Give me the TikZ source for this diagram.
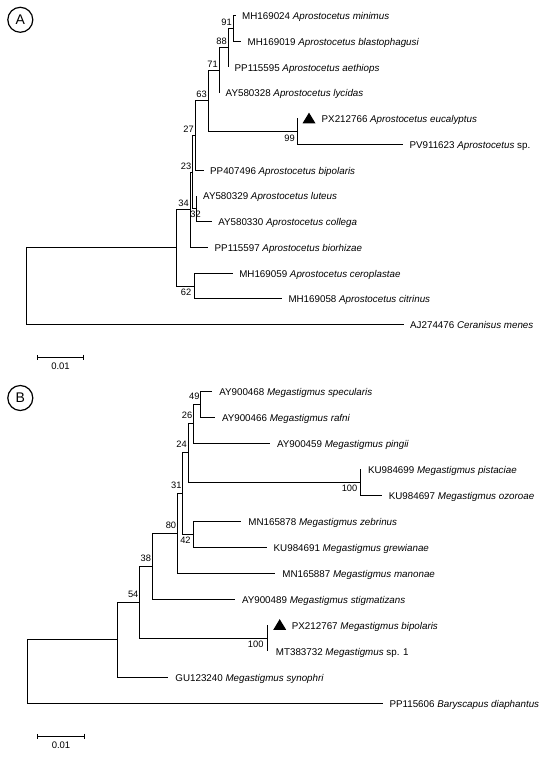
\documentclass[tikz,border=0pt]{standalone}
\usepackage{fontspec}
\setmainfont{Liberation Sans}
\usetikzlibrary{arrows.meta, positioning, calc}

\begin{document}
\begin{tikzpicture}[
  x=1pt, y=-1pt,
  branch/.style={line width=0.8pt, black},
  taxon/.style={font=\fontsize{9.8}{11}\selectfont, inner sep=0pt,
    text height=0.72em, text depth=0.22em, yshift=-1.7pt},
  boot/.style={font=\fontsize{9.3}{11}\selectfont, inner sep=0pt,
    anchor=base east, xshift=-1pt, yshift=#1},
  boot/.default=2.8pt,
  bootlow/.style={font=\fontsize{9.3}{11}\selectfont, inner sep=0pt,
    anchor=north east, xshift=-2.5pt, yshift=-3pt},
  panel/.style={draw, circle, line width=1.2pt, minimum size=25pt,
    inner sep=0pt, font=\fontsize{14}{14}\selectfont},
  scalebar/.style={line width=0.8pt, {Bar[width=5pt]}-{Bar[width=5pt]}},
]

\useasboundingbox (0,0) rectangle (550,757);

% ================= Tree A =================
\node[panel] (pA) at (20.3,19.8) {A};

% internal nodes
\foreach \n/\x/\y in {aroot/26.5/286.1, a00/176/247.75, a34/190/209.6,
    a23/192.5/172, a27/195/135.4, a63/208/100.8, a71/219/70.2,
    a88/228/47.7, a91/233/28.4, a99/297.5/131.4, a32/196.5/208.6,
    a62/194/285.9}
  \coordinate (\n) at (\x,\y);

% leaf tips
\foreach \n/\x/\y in {minimus/235.5/15.5, blastoph/241/41.25,
    aethiops/228/67, lycidas/219/92.75, eucalypt/297.5/118.5,
    apsp/402.8/144.25, apbipol/203.5/170, luteus/196.5/195.75,
    collega/211.6/221.5, biorhiz/208/247.25, ceropl/232.6/273,
    citrinus/281.8/298.75, menes/403.5/324.5}
  \coordinate (\n) at (\x,\y);

% branches
\foreach \p/\c in {aroot/a00, aroot/menes, a00/a34, a00/a62, a34/a23,
    a34/biorhiz, a23/a27, a23/a32, a27/a63, a27/apbipol, a63/a71, a63/a99,
    a71/a88, a71/lycidas, a88/a91, a88/aethiops, a91/minimus, a91/blastoph,
    a99/eucalypt, a99/apsp, a32/luteus, a32/collega, a62/ceropl, a62/citrinus}
  \draw[branch] (\p) |- (\c);

% taxon labels
\foreach \n/\txt in {
    minimus/{MH169024 \textit{Aprostocetus minimus}},
    blastoph/{MH169019 \textit{Aprostocetus blastophagusi}},
    aethiops/{PP115595 \textit{Aprostocetus aethiops}},
    lycidas/{AY580328 \textit{Aprostocetus lycidas}},
    apsp/{PV911623 \textit{Aprostocetus} sp.},
    apbipol/{PP407496 \textit{Aprostocetus bipolaris}},
    luteus/{AY580329 \textit{Aprostocetus luteus}},
    collega/{AY580330 \textit{Aprostocetus collega}},
    biorhiz/{PP115597 \textit{Aprostocetus biorhizae}},
    ceropl/{MH169059 \textit{Aprostocetus ceroplastae}},
    citrinus/{MH169058 \textit{Aprostocetus citrinus}},
    menes/{AJ274476 \textit{Ceranisus menes}}}
  \node[taxon, right=6.5pt of \n] (\n-lab) {\txt};

% new sequence, marked
\fill ($(eucalypt)+(5,4.9)$) -- ++(13,0) -- ++(-6.5,-10.8) -- cycle;
\node[taxon, right=24pt of eucalypt] (eucalypt-lab)
  {PX212766 \textit{Aprostocetus eucalyptus}};

% bootstrap values
\foreach \n/\v in {a91/91, a88/88, a71/71, a63/63, a27/27, a23/23, a34/34}
  \node[boot] (s\n) at (\n) {\v};
\node[bootlow] (sa99) at (a99) {99};
\node[bootlow] (sa62) at (a62) {62};
\node[bootlow, xshift=7pt, yshift=1pt] (sa32) at (a32) {32};

% scale bar
\coordinate (sbA1) at (37,357);
\coordinate (sbA2) at (84,357);
\draw[scalebar] (sbA1) -- (sbA2)
  node[midway, below=5.5pt, inner sep=0pt, font=\fontsize{9.5}{11}\selectfont] {0.01};

% ================= Tree B =================
\node[panel] (pB) at (20.3,398) {B};

% internal nodes
\foreach \n/\x/\y in {broot/27/671.25, b00/117/639.5, b54/139.6/602,
    b38/152.2/566.1, b80/177.3/533.2, b31/182.7/493.4, b24/188/452.75,
    b26/193.5/423.5, b49/200.7/404, b42/193.3/534, b100p/360/482,
    b100m/267.7/638}
  \coordinate (\n) at (\x,\y);

% leaf tips
\foreach \n/\x/\y in {specul/212.3/391, rafni/215/417, pingii/270/443,
    pistac/361/469, ozoroae/381.8/495, zebrinus/241.4/521,
    grewian/266.7/547, manonae/275.4/573, stigmat/235/599,
    mgbipol/267.7/625, mgsp/267.7/651, synophri/168.4/677,
    diaphan/382.5/703}
  \coordinate (\n) at (\x,\y);

% branches
\foreach \p/\c in {broot/b00, broot/diaphan, b00/b54, b00/synophri,
    b54/b38, b54/b100m, b38/b80, b38/stigmat, b80/b31, b80/manonae,
    b31/b24, b31/b42, b24/b26, b24/b100p, b26/b49, b26/pingii,
    b49/specul, b49/rafni, b100p/pistac, b100p/ozoroae, b42/zebrinus,
    b42/grewian, b100m/mgbipol, b100m/mgsp}
  \draw[branch] (\p) |- (\c);

% taxon labels
\foreach \n/\txt in {
    specul/{AY900468 \textit{Megastigmus specularis}},
    rafni/{AY900466 \textit{Megastigmus rafni}},
    pingii/{AY900459 \textit{Megastigmus pingii}},
    pistac/{KU984699 \textit{Megastigmus pistaciae}},
    ozoroae/{KU984697 \textit{Megastigmus ozoroae}},
    zebrinus/{MN165878 \textit{Megastigmus zebrinus}},
    grewian/{KU984691 \textit{Megastigmus grewianae}},
    manonae/{MN165887 \textit{Megastigmus manonae}},
    stigmat/{AY900489 \textit{Megastigmus stigmatizans}},
    synophri/{GU123240 \textit{Megastigmus synophri}},
    diaphan/{PP115606 \textit{Baryscapus diaphantus}}}
  \node[taxon, right=6.8pt of \n] (\n-lab) {\txt};
\node[taxon, right=8pt of mgsp] (mgsp-lab) {MT383732 \textit{Megastigmus} sp. 1};

% new sequence, marked
\fill ($(mgbipol)+(5.5,4.9)$) -- ++(13,0) -- ++(-6.5,-10.8) -- cycle;
\node[taxon, right=24pt of mgbipol] (mgbipol-lab)
  {PX212767 \textit{Megastigmus bipolaris}};

% bootstrap values
\foreach \n/\v in {b49/49, b26/26, b24/24, b31/31, b80/80, b38/38, b54/54}
  \node[boot=5pt] (s\n) at (\n) {\v};
\node[bootlow] (sb42) at (b42) {42};
\node[bootlow] (sb100p) at (b100p) {100};
\node[bootlow, xshift=-1.5pt] (sb100m) at (b100m) {100};

% scale bar
\coordinate (sbB1) at (37,736);
\coordinate (sbB2) at (85,736);
\draw[scalebar] (sbB1) -- (sbB2)
  node[midway, below=5.5pt, inner sep=0pt, font=\fontsize{9.5}{11}\selectfont] {0.01};

\end{tikzpicture}
\end{document}
